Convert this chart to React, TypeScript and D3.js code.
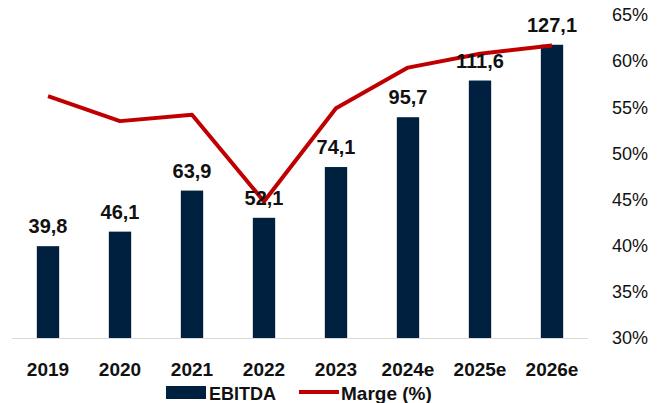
import { useEffect, useRef } from 'react';
import { line, scaleBand, scaleLinear, select } from 'd3';

const years = ['2019', '2020', '2021', '2022', '2023', '2024e', '2025e', '2026e'];
const ebitda = [39.8, 46.1, 63.9, 52.1, 74.1, 95.7, 111.6, 127.1];
const marge = [56.2, 53.5, 54.2, 44.8, 54.9, 59.3, 60.8, 61.7];
const pctTicks = [30, 35, 40, 45, 50, 55, 60, 65];

const width = 665;
const height = 403;
const plot = { left: 12, right: 588, top: 15, bottom: 338 };
const navy = '#00203F';
const red = '#C00000';
const font = 'Liberation Sans, Arial, sans-serif';

const App = () => {
  const svgRef = useRef<SVGSVGElement>(null);

  useEffect(() => {
    const svg = select(svgRef.current);
    svg.selectAll('*').remove();

    const x = scaleBand<string>()
      .domain(years)
      .range([plot.left, plot.right])
      .paddingInner(0.69)
      .paddingOuter(0.345);
    const yBar = scaleLinear().domain([0, 140]).range([plot.bottom, plot.top]);
    const yPct = scaleLinear().domain([30, 65]).range([plot.bottom, plot.top]);

    // bars
    svg
      .append('g')
      .selectAll('rect')
      .data(ebitda)
      .join('rect')
      .attr('x', (d, i) => x(years[i])!)
      .attr('y', (d) => yBar(d))
      .attr('width', x.bandwidth())
      .attr('height', (d) => plot.bottom - yBar(d))
      .attr('fill', navy);

    // baseline
    svg
      .append('line')
      .attr('x1', plot.left)
      .attr('x2', plot.right)
      .attr('y1', plot.bottom + 0.5)
      .attr('y2', plot.bottom + 0.5)
      .attr('stroke', '#D9D9D9')
      .attr('stroke-width', 1);

    // margin line
    const marginLine = line<number>()
      .x((d, i) => x(years[i])! + x.bandwidth() / 2)
      .y((d) => yPct(d));
    svg
      .append('path')
      .attr('d', marginLine(marge))
      .attr('fill', 'none')
      .attr('stroke', red)
      .attr('stroke-width', 4)
      .attr('stroke-linejoin', 'round');

    // value labels
    svg
      .append('g')
      .selectAll('text')
      .data(ebitda)
      .join('text')
      .attr('x', (d, i) => x(years[i])! + x.bandwidth() / 2)
      .attr('y', (d) => yBar(d) - 13)
      .attr('text-anchor', 'middle')
      .attr('font-family', font)
      .attr('font-weight', 'bold')
      .attr('font-size', 20)
      .attr('fill', '#111')
      .text((d) => d.toFixed(1).replace('.', ','));

    // x labels
    svg
      .append('g')
      .selectAll('text')
      .data(years)
      .join('text')
      .attr('x', (d) => x(d)! + x.bandwidth() / 2)
      .attr('y', 376)
      .attr('text-anchor', 'middle')
      .attr('font-family', font)
      .attr('font-weight', 'bold')
      .attr('font-size', 19)
      .attr('fill', '#111')
      .text((d) => d);

    // right axis labels
    svg
      .append('g')
      .selectAll('text')
      .data(pctTicks)
      .join('text')
      .attr('x', 648)
      .attr('y', (d) => yPct(d))
      .attr('dy', '0.35em')
      .attr('text-anchor', 'end')
      .attr('font-family', font)
      .attr('font-size', 18)
      .attr('fill', '#111')
      .text((d) => `${d}%`);

    // legend
    const legend = svg.append('g');
    legend
      .append('rect')
      .attr('x', 166)
      .attr('y', 386)
      .attr('width', 40)
      .attr('height', 13)
      .attr('fill', navy);
    legend
      .append('text')
      .attr('x', 209)
      .attr('y', 400)
      .attr('font-family', font)
      .attr('font-weight', 'bold')
      .attr('font-size', 18)
      .attr('fill', '#111')
      .text('EBITDA');
    legend
      .append('line')
      .attr('x1', 299)
      .attr('x2', 339)
      .attr('y1', 392)
      .attr('y2', 392)
      .attr('stroke', red)
      .attr('stroke-width', 4);
    legend
      .append('text')
      .attr('x', 341)
      .attr('y', 400)
      .attr('font-family', font)
      .attr('font-weight', 'bold')
      .attr('font-size', 19)
      .attr('fill', '#111')
      .text('Marge (%)');
  }, []);

  return (
    <svg
      ref={svgRef}
      width={width}
      height={height}
      style={{ position: 'absolute', left: 0, top: 0, background: '#fff' }}
    />
  );
};

export default App;
